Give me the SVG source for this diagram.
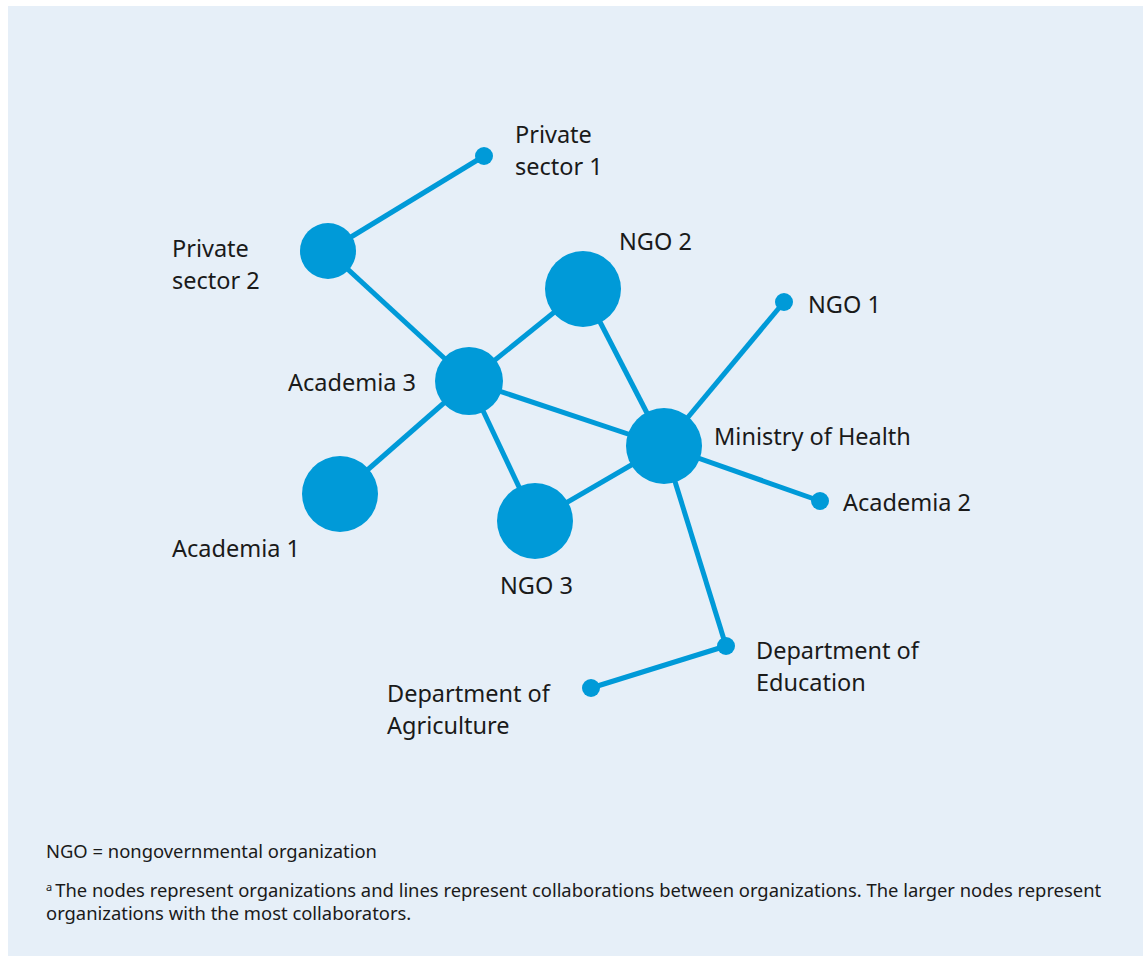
<svg xmlns="http://www.w3.org/2000/svg" width="1143" height="958" viewBox="0 0 1143 958">
<style>
.bg{fill:#e6eff8}
.edge{stroke:#009ad8;stroke-width:5;fill:none}
.node{fill:#009ad8}
.lbl{font-family:"Noto Sans","Open Sans",sans-serif;font-size:23.5px;fill:#1a1a1a}
.note{font-family:"Noto Sans","Open Sans",sans-serif;font-size:18.4px;fill:#1a1a1a}
</style>
<rect class="bg" x="8" y="6" width="1135" height="950"/>
<g id="connectors">
<line class="edge" x1="484" y1="156" x2="328" y2="251"/>
<line class="edge" x1="328" y1="251" x2="469" y2="381"/>
<line class="edge" x1="469" y1="381" x2="583" y2="289"/>
<line class="edge" x1="583" y1="289" x2="664" y2="446"/>
<line class="edge" x1="469" y1="381" x2="664" y2="446"/>
<line class="edge" x1="469" y1="381" x2="340" y2="494"/>
<line class="edge" x1="469" y1="381" x2="535" y2="521"/>
<line class="edge" x1="535" y1="521" x2="664" y2="446"/>
<line class="edge" x1="664" y1="446" x2="784" y2="302"/>
<line class="edge" x1="664" y1="446" x2="820" y2="501"/>
<line class="edge" x1="664" y1="446" x2="726" y2="646"/>
<line class="edge" x1="726" y1="646" x2="591" y2="688"/>
</g>
<g id="private-sector-1"><circle class="node" cx="484" cy="156" r="9"/><text class="lbl" x="515" y="143">Private</text><text class="lbl" x="515" y="175">sector 1</text></g>
<g id="private-sector-2"><circle class="node" cx="328" cy="251" r="28"/><text class="lbl" x="172" y="257">Private</text><text class="lbl" x="172" y="289">sector 2</text></g>
<g id="ngo-2"><circle class="node" cx="583" cy="289" r="38"/><text class="lbl" x="619" y="250">NGO 2</text></g>
<g id="ngo-1"><circle class="node" cx="784" cy="302" r="9"/><text class="lbl" x="808" y="313">NGO 1</text></g>
<g id="academia-3"><circle class="node" cx="469" cy="381" r="34"/><text class="lbl" x="288" y="391">Academia 3</text></g>
<g id="ministry-of-health"><circle class="node" cx="664" cy="446" r="38"/><text class="lbl" x="714" y="445">Ministry of Health</text></g>
<g id="academia-1"><circle class="node" cx="340" cy="494" r="38"/><text class="lbl" x="172" y="557">Academia 1</text></g>
<g id="ngo-3"><circle class="node" cx="535" cy="521" r="38"/><text class="lbl" x="500" y="594">NGO 3</text></g>
<g id="academia-2"><circle class="node" cx="820" cy="501" r="9"/><text class="lbl" x="843" y="511">Academia 2</text></g>
<g id="department-of-education"><circle class="node" cx="726" cy="646" r="9"/><text class="lbl" x="756" y="659">Department of</text><text class="lbl" x="756" y="691">Education</text></g>
<g id="department-of-agriculture"><circle class="node" cx="591" cy="688" r="9"/><text class="lbl" x="387" y="702">Department of</text><text class="lbl" x="387" y="734">Agriculture</text></g>
<g id="notes">
<text class="note" x="46" y="858">NGO = nongovernmental organization</text>
<text class="note" x="46" y="897"><tspan font-size="11" dy="-6">a</tspan><tspan dy="6" dx="3">The nodes represent organizations and lines represent collaborations between organizations. The larger nodes represent</tspan></text>
<text class="note" x="46" y="920">organizations with the most collaborators.</text>
</g>
</svg>
